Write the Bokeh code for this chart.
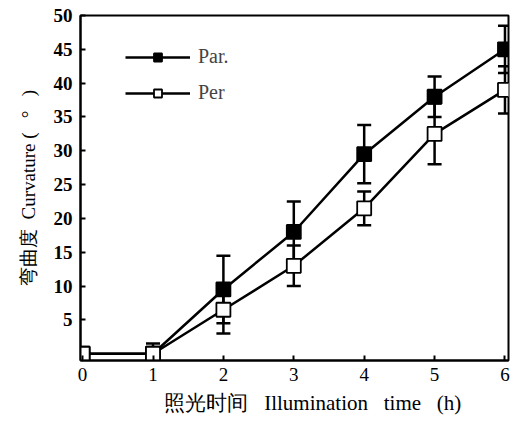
from bokeh.plotting import figure
from bokeh.models import Whisker, TeeHead, ColumnDataSource, Legend, LegendItem, FixedTicker, Range1d
from bokeh.embed import file_html
from bokeh.resources import INLINE

hours = [0, 1, 2, 3, 4, 5, 6]
par_mean = [0, 0, 9.5, 18, 29.5, 38, 45]
par_err = [0, 1.5, 5, 4.5, 4.3, 3, 3.5]
per_mean = [0, 0, 6.5, 13, 21.5, 32.5, 39]
per_err = [0, 0, 3.5, 3, 2.5, 4.5, 3.5]
y_ticks = [5, 10, 15, 20, 25, 30, 35, 40, 45, 50]
x_ticks = [0, 1, 2, 3, 4, 5, 6]

SERIF = "Liberation Serif"
NB = "\u00a0"

p = figure(width=513, height=420, output_backend="svg", toolbar_location=None,
           x_range=Range1d(-0.03, 6.05), y_range=Range1d(-1, 50),
           min_border_left=80, min_border_right=5, min_border_top=15, min_border_bottom=60)
p.grid.visible = False
p.background_fill_color = "white"
p.border_fill_color = "white"
p.outline_line_color = "black"
p.outline_line_width = 2

for ax in (p.xaxis[0], p.yaxis[0]):
    ax.axis_line_width = 2
    ax.axis_line_color = "black"
    ax.major_tick_line_width = 2
    ax.major_tick_in = 5
    ax.major_tick_out = 0
    ax.minor_tick_line_color = None
    ax.major_label_text_font = SERIF
    ax.major_label_text_font_size = "19px"
    ax.major_label_text_color = "black"
    ax.axis_label_text_font = SERIF
    ax.axis_label_text_font_style = "normal"
    ax.axis_label_text_color = "black"

p.xaxis[0].ticker = FixedTicker(ticks=x_ticks)
p.yaxis[0].ticker = FixedTicker(ticks=y_ticks)
p.yaxis[0].major_label_text_font_style = "bold"
p.xaxis[0].major_label_standoff = 7
p.yaxis[0].major_label_standoff = 8
p.xaxis[0].axis_label_standoff = 7
p.yaxis[0].axis_label_standoff = 12
p.xaxis[0].axis_label_text_font_size = "21px"
p.yaxis[0].axis_label_text_font_size = "19px"
p.xaxis[0].axis_label = NB * 7 + "照光时间" + NB * 3 + "Illumination" + NB * 3 + "time" + NB * 3 + "(h)"
p.yaxis[0].axis_label = "弯曲度" + NB * 2 + "Curvature" + NB + "(" + NB * 3 + "°" + NB * 3 + ")"

def series(mean, err, fill):
    src = ColumnDataSource(dict(x=hours, y=mean,
                                lo=[m - e for m, e in zip(mean, err)],
                                hi=[m + e for m, e in zip(mean, err)]))
    w = Whisker(source=src, base="x", upper="hi", lower="lo", line_width=2.5, line_color="black",
                upper_head=TeeHead(size=14, line_width=2.5, line_color="black"),
                lower_head=TeeHead(size=14, line_width=2.5, line_color="black"))
    p.add_layout(w)
    ln = p.line("x", "y", source=src, line_width=2.5, line_color="black")
    mk = p.scatter("x", "y", source=src, marker="square", size=14, line_width=1.8,
                   line_color="black", fill_color=fill)
    return ln, mk

par_ln, par_mk = series(par_mean, par_err, "black")
per_ln, per_mk = series(per_mean, per_err, "white")

legend = Legend(items=[LegendItem(label="Par.", renderers=[par_ln, par_mk]),
                       LegendItem(label="Per", renderers=[per_ln, per_mk])],
                location=(45, 256), glyph_width=65, glyph_height=20, spacing=13,
                padding=0, margin=0, label_standoff=8,
                label_text_font=SERIF, label_text_font_size="20px",
                border_line_alpha=0, background_fill_alpha=0)
p.add_layout(legend)

open("out.html", "w").write(file_html(p, INLINE))
